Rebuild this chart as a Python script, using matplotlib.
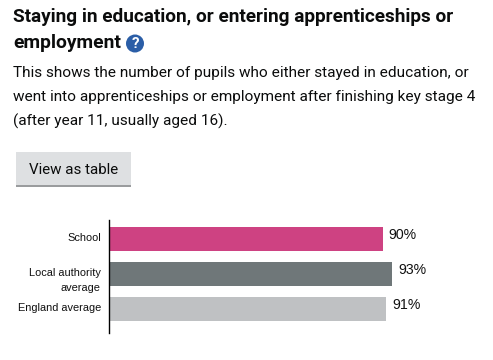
import matplotlib
matplotlib.use('Agg')
import matplotlib.pyplot as plt
from matplotlib.patches import Rectangle, Circle
from matplotlib.transforms import ScaledTranslation

W = 493
H = 360

title_lines = ['Staying in education, or entering apprenticeships or', 'employment']
body_lines = ['This shows the number of pupils who either stayed in education, or',
              'went into apprenticeships or employment after finishing key stage 4',
              '(after year 11, usually aged 16).']
button_label = 'View as table'

categories = ['School', 'Local authority\naverage', 'England average']
values = [90, 93, 91]
bar_colors = ['#ce4282', '#6f7779', '#bfc1c3']
value_labels = ['90%', '93%', '91%']

fig = plt.figure(figsize=(W / 100, H / 100), dpi=100)

# page layer in pixel coordinates
page = fig.add_axes([0, 0, 1, 1])
page.set_xlim(0, W)
page.set_ylim(H, 0)
page.axis('off')

page.text(13, 17, title_lines[0], fontsize=13.65, fontweight='bold', family='Roboto', color='#0b0c0c', va='center')
page.text(13, 43, title_lines[1], fontsize=13.9, fontweight='bold', family='Roboto', color='#0b0c0c', va='center')

page.add_patch(Circle((135, 43.5), 9, color='#2b5ea7', lw=0))
page.text(135, 43.5, '?', fontsize=11, fontweight='bold', family='Roboto', color='white', ha='center', va='center')

for i, line in enumerate(body_lines):
    page.text(13, 73 + i * 24, line, fontsize=11.05, family='Roboto', color='#0b0c0c', va='center')

page.add_patch(Rectangle((16, 152), 115, 33, color='#dee0e2', lw=0))
page.add_patch(Rectangle((16, 185), 115, 2, color='#9a9c9e', lw=0))
page.text(73.5, 169.5, button_label, fontsize=10.9, family='Roboto', color='#0b0c0c', ha='center', va='center')

# chart
left, right, top, bottom = 108.5, 470, 220, 332.5
ax = fig.add_axes([left / W, 1 - bottom / H, (right - left) / W, (bottom - top) / H])
ax.patch.set_alpha(0)
ypos = list(range(len(categories)))
ax.barh(ypos, values, height=24 / 35, color=bar_colors)
ax.set_xlim(0, (right - left) / 3.05)
ax.set_ylim(2.67, -0.543)
for s in ['top', 'right', 'bottom']:
    ax.spines[s].set_visible(False)
ax.spines['left'].set_linewidth(1)
ax.spines['left'].set_color('black')
ax.xaxis.set_visible(False)
ax.set_yticks(ypos)
ax.set_yticklabels(categories, fontsize=7.9, family='Liberation Sans', color='#111111', linespacing=1.65)
ax.tick_params(axis='y', length=0, pad=5.5)

# labels sit a little off the bar centres, the two line one lower
for lab, dy in zip(ax.get_yticklabels(), [2, -3, 2]):
    lab.set_transform(lab.get_transform() + ScaledTranslation(0, dy / 100, fig.dpi_scale_trans))

for y, v, lab in zip(ypos, values, value_labels):
    ax.annotate(lab, (v, y), xytext=(4.2, 2.6), textcoords='offset points', fontsize=10.2,
                family='Liberation Sans', color='#111111', va='center', ha='left')

fig.savefig('out.png', dpi=100)
